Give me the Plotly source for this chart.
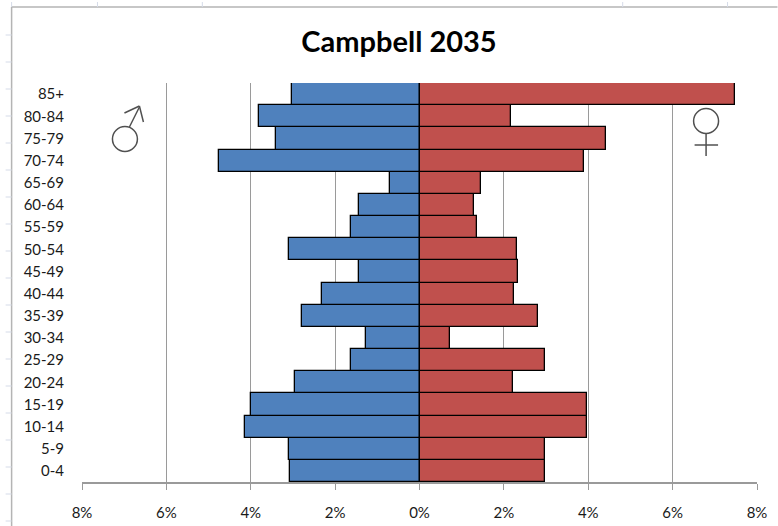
import plotly.graph_objects as go

W, H = 778, 526
L, R, T, B = 81.5, 757.5, 83, 482

age_groups = ["0-4", "5-9", "10-14", "15-19", "20-24", "25-29", "30-34", "35-39", "40-44",
              "45-49", "50-54", "55-59", "60-64", "65-69", "70-74", "75-79", "80-84", "85+"]
male_pct = [3.08, 3.10, 4.14, 4.00, 2.96, 1.63, 1.28, 2.79, 2.30,
            1.44, 3.10, 1.63, 1.44, 0.71, 4.76, 3.41, 3.81, 3.03]
female_pct = [2.98, 2.98, 3.97, 3.97, 2.21, 2.98, 0.73, 2.82, 2.24,
              2.34, 2.30, 1.36, 1.28, 1.46, 3.90, 4.43, 2.16, 7.47]
tick_vals = [-8, -6, -4, -2, 0, 2, 4, 6, 8]
tick_text = ["8%", "6%", "4%", "2%", "0%", "2%", "4%", "6%", "8%"]

BLUE, RED = "#4f81bd", "#c0504d"
GRID = "#9a9a9a"
FONT = "Lato, 'Open Sans', sans-serif"


def px(x):
    return (x - L) / (R - L)


def py(y):
    return (B - y) / (B - T)


def line(x0, y0, x1, y1, color, width=1.0):
    return dict(type="line", xref="paper", yref="paper", x0=px(x0), y0=py(y0), x1=px(x1), y1=py(y1),
                line=dict(color=color, width=width), layer="above")


def circle(cx, cy, r, color="#505050", width=1.5):
    return dict(type="circle", xref="paper", yref="paper", x0=px(cx - r), x1=px(cx + r), y0=py(cy + r), y1=py(cy - r),
                line=dict(color=color, width=width), layer="above")


shapes = []
# worksheet frame and ruler ticks behind the chart
shapes += [line(11, 7, 778, 7, "#b4b4b4", 1.5), line(11, 7, 11, 526, "#b4b4b4", 1.5)]
for y in [35, 62, 89, 116, 143, 170, 197, 224, 251, 278, 305, 332, 359, 386, 413, 440, 467, 494, 521]:
    shapes.append(line(5, y, 11, y, "#d5dbe8", 1))
for x in [11, 97, 202, 623, 728]:
    shapes.append(line(x, 2, x, 7, "#d5dbe8", 1))
# male symbol
shapes += [circle(124.5, 139, 12.5),
           line(129, 127, 139, 107, "#505050", 1.5),
           line(124, 113, 139, 106, "#505050", 1.5),
           line(139, 106, 143, 122, "#505050", 1.5)]
# female symbol
shapes += [circle(706.5, 121, 12.5),
           line(706.5, 133.5, 706.5, 156, "#505050", 1.5),
           line(695, 145, 718.5, 145, "#505050", 1.5)]

fig = go.Figure()
fig.add_bar(y=age_groups, x=[-v for v in male_pct], orientation="h", name="Male",
            marker=dict(color=BLUE, line=dict(color="#000000", width=1.3)))
fig.add_bar(y=age_groups, x=female_pct, orientation="h", name="Female",
            marker=dict(color=RED, line=dict(color="#000000", width=1.3)))

fig.update_layout(
    width=W, height=H, autosize=False, barmode="overlay", bargap=0, showlegend=False,
    paper_bgcolor="white", plot_bgcolor="white",
    margin=dict(l=L, r=W - R, t=T, b=H - B, pad=0),
    font=dict(family=FONT, size=14, color="#1a1a1a"),
    title=dict(text="<b>Campbell 2035</b>", font=dict(family=FONT, size=29, color="#000000"),
               x=(399) / W, xanchor="center", y=1 - 42 / H, yanchor="middle"),
    shapes=shapes,
    xaxis=dict(range=[-8, 8], tickvals=tick_vals, ticktext=tick_text, showgrid=True, gridcolor=GRID, gridwidth=1.3,
               zeroline=False, showline=True, linecolor=GRID, linewidth=1.5, ticks="outside", ticklen=6, tickwidth=1.3,
               tickcolor=GRID, ticklabelstandoff=10, tickfont=dict(size=15), automargin=False),
    yaxis=dict(type="category", categoryorder="array", categoryarray=age_groups, showgrid=False, zeroline=False,
               showline=False, ticks="", ticklabelstandoff=17, tickfont=dict(size=15), automargin=False),
)

fig.write_html("out.html", config={"displayModeBar": False},
               post_script="document.documentElement.style.margin='0';document.body.style.margin='0';document.body.style.overflow='hidden';")
